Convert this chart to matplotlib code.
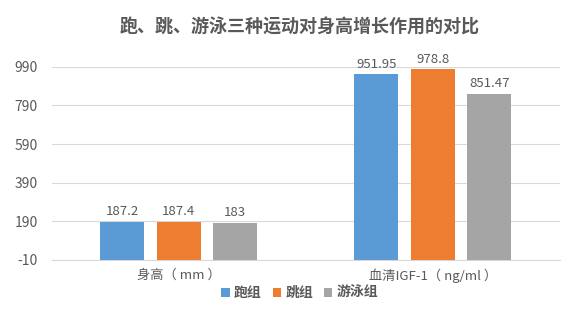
import numpy as np
import matplotlib
matplotlib.use("Agg")
import matplotlib.pyplot as plt

plt.rcParams['font.family'] = ['Noto Sans CJK SC', 'DejaVu Sans']

categories = ['身高（ mm ）', '血清IGF-1（ ng/ml ）']
groups = ['跑组', '跳组', '游泳组']
values = [
    [187.2, 951.95],
    [187.4, 978.8],
    [183, 851.47],
]
value_labels = [
    ['187.2', '951.95'],
    ['187.4', '978.8'],
    ['183', '851.47'],
]
colors = ['#5B9BD5', '#ED7D31', '#A5A5A5']
yticks = [-10, 190, 390, 590, 790, 990]

text_color = '#595959'

fig = plt.figure(figsize=(5.82, 3.17), dpi=100)
ax = fig.add_axes([0.089, 0.180, 0.873, 0.609])

x = np.arange(len(categories))
width = 0.173
step = 0.222
for i, (g, vals) in enumerate(zip(groups, values)):
    pos = x + (i - 1) * step
    bars = ax.bar(pos, np.array(vals) + 10, width, bottom=-10, color=colors[i], label=g, zorder=3)
    for b, lab in zip(bars, value_labels[i]):
        ax.text(b.get_x() + b.get_width() / 2, b.get_y() + b.get_height() + 18, lab,
                ha='center', va='bottom', fontsize=9.5, color=text_color)

ax.set_xlim(-0.5, 1.5)
ax.set_ylim(-10, 990)
ax.set_yticks(yticks)
ax.set_yticklabels([str(t) for t in yticks], fontsize=10, color=text_color)
ax.set_xticks(x)
ax.set_xticklabels(categories, fontsize=9.5, color=text_color)
ax.tick_params(axis='both', length=0, pad=6)
ax.tick_params(axis='y', pad=10)
ax.grid(axis='y', color='#D9D9D9', linewidth=0.8, zorder=0)
for s in ['top', 'right', 'left']:
    ax.spines[s].set_visible(False)
ax.spines['bottom'].set_color('#D9D9D9')

fig.suptitle('跑、跳、游泳三种运动对身高增长作用的对比', x=0.515, y=0.945,
             fontsize=13, fontweight='bold', color=text_color)

leg = fig.legend(loc='center', bbox_to_anchor=(0.515, 0.075), ncol=3, frameon=False,
                 handlelength=0.6, handleheight=0.6, handletextpad=0.3, columnspacing=0.8,
                 prop={'size': 10, 'weight': 'bold'})
for t in leg.get_texts():
    t.set_color(text_color)

fig.savefig('out.png', dpi=100, facecolor='white')
